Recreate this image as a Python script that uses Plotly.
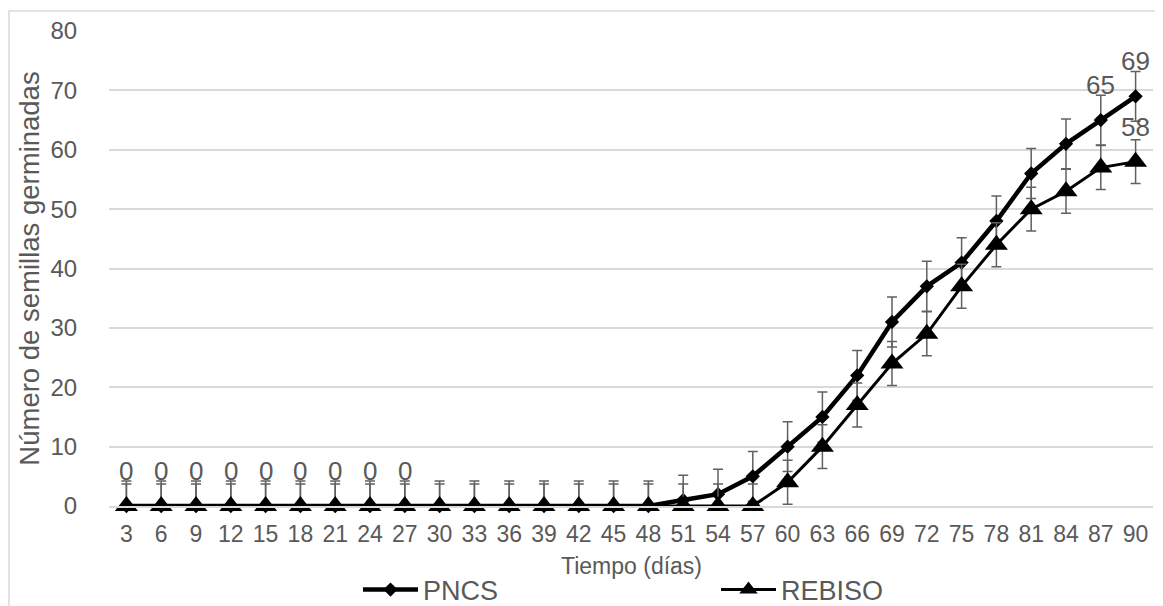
import plotly.graph_objects as go

days = [3, 6, 9, 12, 15, 18, 21, 24, 27, 30, 33, 36, 39, 42, 45, 48, 51, 54, 57, 60,
        63, 66, 69, 72, 75, 78, 81, 84, 87, 90]
categories = [str(d) for d in days]

pncs = [0, 0, 0, 0, 0, 0, 0, 0, 0, 0, 0, 0, 0, 0, 0, 0, 1, 2, 5, 10,
        15, 22, 31, 37, 41, 48, 56, 61, 65, 69]
rebiso = [0, 0, 0, 0, 0, 0, 0, 0, 0, 0, 0, 0, 0, 0, 0, 0, 0, 0, 0, 4,
          10, 17, 24, 29, 37, 44, 50, 53, 57, 58]

pncs_err = [4.2] * len(days)
rebiso_err = [3.7] * len(days)

# data labels shown in the reference
pncs_label_days = [3, 6, 9, 12, 15, 18, 21, 24, 27, 87, 90]
rebiso_label_days = [90]

x_title = "Tiempo (días)"
y_title = "Número de semillas germinadas"

GRAY = "#595959"
FONT = "Arial, Liberation Sans, sans-serif"

fig = go.Figure()

fig.add_trace(go.Scatter(
    x=categories, y=pncs, name="PNCS", mode="lines+markers",
    line=dict(color="black", width=4.5),
    marker=dict(symbol="diamond", size=11, color="black"),
    error_y=dict(type="data", array=pncs_err,
                 arrayminus=[min(e, v) for e, v in zip(pncs_err, pncs)],
                 color="#606060", thickness=1.5, width=5),
    cliponaxis=False,
))
fig.add_trace(go.Scatter(
    x=categories, y=rebiso, name="REBISO", mode="lines+markers",
    line=dict(color="black", width=3),
    marker=dict(symbol="triangle-up", size=20, color="black"),
    error_y=dict(type="data", array=rebiso_err,
                 arrayminus=[min(e, v) for e, v in zip(rebiso_err, rebiso)],
                 color="#606060", thickness=1.5, width=5),
    cliponaxis=False,
))

# page body adds an 8px offset; design in screen pixels
OFF = 8
W, H = 1163, 606
L = 109 - OFF
T = 31 - OFF
R = W - (1153 - OFF)
B = H - (506 - OFF)
pw, ph = W - L - R, H - T - B

def px_x(sx):
    return (sx - OFF - L) / pw

def px_y(sy):
    return (H - B - (sy - OFF)) / ph

annotations = []
for d in pncs_label_days:
    i = days.index(d)
    annotations.append(dict(x=i, y=pncs[i], text=str(pncs[i]),
                            showarrow=False, yshift=35, yanchor="middle",
                            font=dict(size=26, color=GRAY, family=FONT)))
for d in rebiso_label_days:
    i = days.index(d)
    annotations.append(dict(x=i, y=rebiso[i], text=str(rebiso[i]),
                            showarrow=False, yshift=35, yanchor="middle",
                            font=dict(size=26, color=GRAY, family=FONT)))
annotations.append(dict(xref="paper", yref="paper", x=0.5, y=px_y(566),
                        xanchor="center", yanchor="middle", showarrow=False,
                        text=x_title, font=dict(size=23, color=GRAY, family=FONT)))

fig.update_layout(
    width=W, height=H,
    margin=dict(l=L, r=R, t=T, b=B, autoexpand=False),
    paper_bgcolor="white", plot_bgcolor="white",
    font=dict(family=FONT, color=GRAY, size=24),
    showlegend=True,
    legend=dict(orientation="h", x=px_x(358), xanchor="left",
                y=px_y(590), yanchor="middle",
                font=dict(size=27, color=GRAY, family=FONT),
                itemwidth=55, entrywidth=288, entrywidthmode="pixels",
                bgcolor="rgba(0,0,0,0)"),
    annotations=annotations,
    shapes=[dict(type="rect", xref="paper", yref="paper",
                 x0=px_x(9), x1=px_x(1175), y0=px_y(630), y1=px_y(11),
                 line=dict(color="#D9D9D9", width=1.5), layer="below")],
    xaxis=dict(
        type="category", categoryorder="array", categoryarray=categories,
        range=[-0.5, len(categories) - 0.5],
        showgrid=False, showline=True, linecolor="#D9D9D9", linewidth=1.5,
        ticks="outside", ticklen=7, tickcolor="rgba(0,0,0,0)",
        tickfont=dict(size=23, color=GRAY),
        zeroline=False, automargin=False,
    ),
    yaxis=dict(
        range=[0, 80], dtick=10, tick0=0,
        showgrid=True, gridcolor="#D9D9D9", gridwidth=1.5,
        zeroline=False, showline=False,
        ticks="outside", ticklen=26, tickcolor="rgba(0,0,0,0)",
        tickfont=dict(size=24, color=GRAY),
        title=dict(text=y_title, font=dict(size=27.5, color=GRAY), standoff=2),
        automargin=False,
    ),
)

fig.write_html("out.html")
